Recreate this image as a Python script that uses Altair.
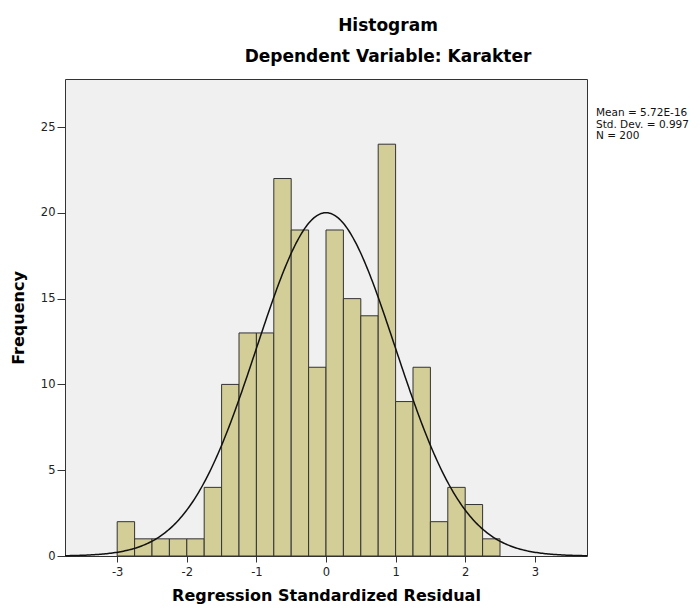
import altair as alt
import pandas as pd

# Histogram bins (width 0.25) and frequencies
bin_starts = [-3.0, -2.75, -2.5, -2.25, -2.0, -1.75, -1.5, -1.25, -1.0, -0.75, -0.5,
              -0.25, 0.0, 0.25, 0.5, 0.75, 1.0, 1.25, 1.5, 1.75, 2.0, 2.25]
counts = [2, 1, 1, 1, 1, 4, 10, 13, 13, 22, 19, 11, 19, 15, 14, 24, 9, 11, 2, 4, 3, 1]
bin_width = 0.25

# Summary statistics shown in the chart
mean = 5.72e-16
std_dev = 0.997
n_obs = 200
stats_lines = ["Mean = 5.72E-16", "Std. Dev. = 0.997", "N = 200"]

x_ticks = [-3, -2, -1, 0, 1, 2, 3]
y_ticks = [0, 5, 10, 15, 20, 25]
x_domain = [-3.75, 3.75]
y_domain = [0, 27.8]

bars_df = pd.DataFrame({
    "start": bin_starts,
    "end": [b + bin_width for b in bin_starts],
    "count": counts,
})

FONT = "DejaVu Sans"

x_scale = alt.Scale(domain=x_domain, nice=False, zero=False)
y_scale = alt.Scale(domain=y_domain, nice=False)

x_axis = alt.Axis(
    values=x_ticks, labelExpr="'' + datum.value", title="Regression Standardized Residual",
    grid=False, domain=False,
    tickSize=6, tickColor="#333333", labelPadding=4, labelFontSize=11.5, labelColor="#222222",
    labelFont=FONT, titleFont=FONT, titleFontSize=16, titleFontWeight="bold",
    titleColor="#000000", titleBaseline="alphabetic", titleY=44, titleX=261,
    titleAnchor="middle",
)
y_axis = alt.Axis(
    values=y_ticks, labelExpr="'' + datum.value", title="Frequency", grid=False, domain=False,
    tickSize=8, tickColor="#333333", labelPadding=2, labelFontSize=11.5, labelColor="#222222",
    labelFont=FONT, titleFont=FONT, titleFontSize=16, titleFontWeight="bold",
    titleColor="#000000", titleBaseline="alphabetic", titleAngle=-90, titleX=-42,
    titleY=238.5, titleAlign="center",
)

bars = alt.Chart(bars_df).mark_rect(
    fill="#D3CE97", stroke="#333333", strokeWidth=1
).encode(
    x=alt.X("start:Q", scale=x_scale, axis=x_axis),
    x2="end:Q",
    y=alt.Y("count:Q", scale=y_scale, axis=y_axis),
    y2=alt.datum(0),
)

curve_expr = (
    f"{n_obs} * {bin_width} * exp(-0.5 * pow((datum.x - {mean}) / {std_dev}, 2))"
    f" / ({std_dev} * sqrt(2 * PI))"
)
curve = alt.Chart(alt.sequence(x_domain[0], x_domain[1] + 0.001, 0.02, as_="x")).transform_calculate(
    density=curve_expr
).mark_line(color="#111111", strokeWidth=1.5).encode(
    x=alt.X("x:Q", scale=x_scale),
    y=alt.Y("density:Q", scale=y_scale),
)

stats = alt.Chart(pd.DataFrame({"t": ["\n".join(stats_lines)]})).mark_text(
    align="left", baseline="alphabetic", font=FONT, fontSize=10.5, lineHeight=11.5,
    color="#111111", lineBreak="\n",
).encode(
    x=alt.value(531), y=alt.value(37), text="t:N"
)

chart = alt.layer(bars, curve, stats).properties(
    width=522, height=477,
    title=alt.TitleParams(
        text="Histogram", subtitle="Dependent Variable: Karakter",
        anchor="middle", frame="group", dx=62, offset=13,
        font=FONT, fontSize=17, fontWeight="bold", color="#000000",
        subtitleFont=FONT, subtitleFontSize=17, subtitleFontWeight="bold",
        subtitleColor="#000000", subtitlePadding=14,
    ),
    autosize=alt.AutoSizeParams(type="none"),
    padding={"left": 57, "top": 71, "right": 105, "bottom": 48},
    background="#FFFFFF",
).configure_view(
    fill="#F0F0F0", stroke="#333333", strokeWidth=1
)

chart.save("out.html", embed_options={"renderer": "svg", "actions": False})
